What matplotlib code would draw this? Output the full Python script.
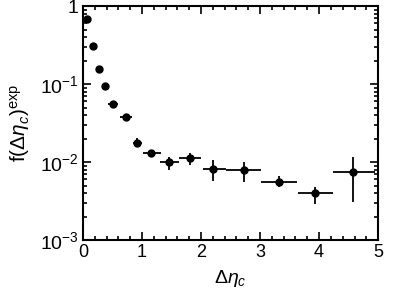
import matplotlib
matplotlib.use("Agg")
import matplotlib.pyplot as plt
from matplotlib.ticker import FixedLocator, FixedFormatter, MultipleLocator, LogLocator, NullFormatter

plt.rcParams['font.family'] = ['Liberation Sans', 'DejaVu Sans']
plt.rcParams['mathtext.fontset'] = 'custom'
plt.rcParams['mathtext.rm'] = 'Liberation Sans'
plt.rcParams['mathtext.it'] = 'Liberation Sans:italic'
plt.rcParams['mathtext.bf'] = 'Liberation Sans:bold'

x = [0.07, 0.17, 0.27, 0.37, 0.51, 0.73, 0.92, 1.16, 1.46, 1.81, 2.21, 2.72, 3.32, 3.93, 4.58]
y = [0.68, 0.31, 0.158, 0.095, 0.056, 0.038, 0.0178, 0.0129, 0.0101, 0.0112, 0.0081, 0.0079, 0.0056, 0.0040, 0.0074]
xerr_lo = [0, 0, 0, 0, 0.08, 0.10, 0.08, 0.14, 0.15, 0.18, 0.18, 0.30, 0.30, 0.29, 0.35]
xerr_hi = [0, 0, 0, 0, 0.09, 0.10, 0.08, 0.16, 0.16, 0.19, 0.21, 0.30, 0.30, 0.30, 0.36]
yerr_lo = [0, 0, 0, 0, 0.002, 0.0018, 0.0022, 0.0012, 0.0021, 0.0021, 0.0024, 0.0023, 0.0008, 0.0011, 0.0043]
yerr_hi = [0, 0, 0, 0, 0.002, 0.0018, 0.0024, 0.0013, 0.0016, 0.0020, 0.0024, 0.0022, 0.0010, 0.0008, 0.0041]

ytick_vals = [1e-3, 1e-2, 1e-1, 1]
ytick_labels = [r'$10^{-3}$', r'$10^{-2}$', r'$10^{-1}$', '1']

fig = plt.figure(figsize=(4.11, 3.07), dpi=100)
ax = fig.add_axes([0.202, 0.218, 0.718, 0.762])

ax.errorbar(x, y, xerr=[xerr_lo, xerr_hi], yerr=[yerr_lo, yerr_hi],
            fmt='o', color='black', ms=5, elinewidth=1.3, capsize=0)

ax.set_yscale('log')
ax.set_xlim(0, 5)
ax.set_ylim(1e-3, 1)
ax.yaxis.set_major_locator(FixedLocator(ytick_vals))
ax.yaxis.set_major_formatter(FixedFormatter(ytick_labels))
ax.yaxis.set_minor_locator(LogLocator(base=10, subs=range(2, 10)))
ax.yaxis.set_minor_formatter(NullFormatter())
ax.xaxis.set_major_locator(MultipleLocator(1))
ax.xaxis.set_minor_locator(MultipleLocator(0.2))

ax.tick_params(which='both', direction='in', top=True, right=True, width=1.2)
ax.tick_params(axis='x', labelsize=13)
ax.tick_params(axis='y', labelsize=14)
ax.tick_params(which='major', length=6, pad=3)
ax.tick_params(which='minor', length=3)
for s in ax.spines.values():
    s.set_linewidth(1.5)

ax.set_xlabel(r'$\Delta\eta_c$', fontsize=14, labelpad=5)
ax.set_ylabel(r'f$(\Delta\eta_c)^{\rm exp}$', fontsize=15, labelpad=6)

fig.savefig('out.png', dpi=100)
